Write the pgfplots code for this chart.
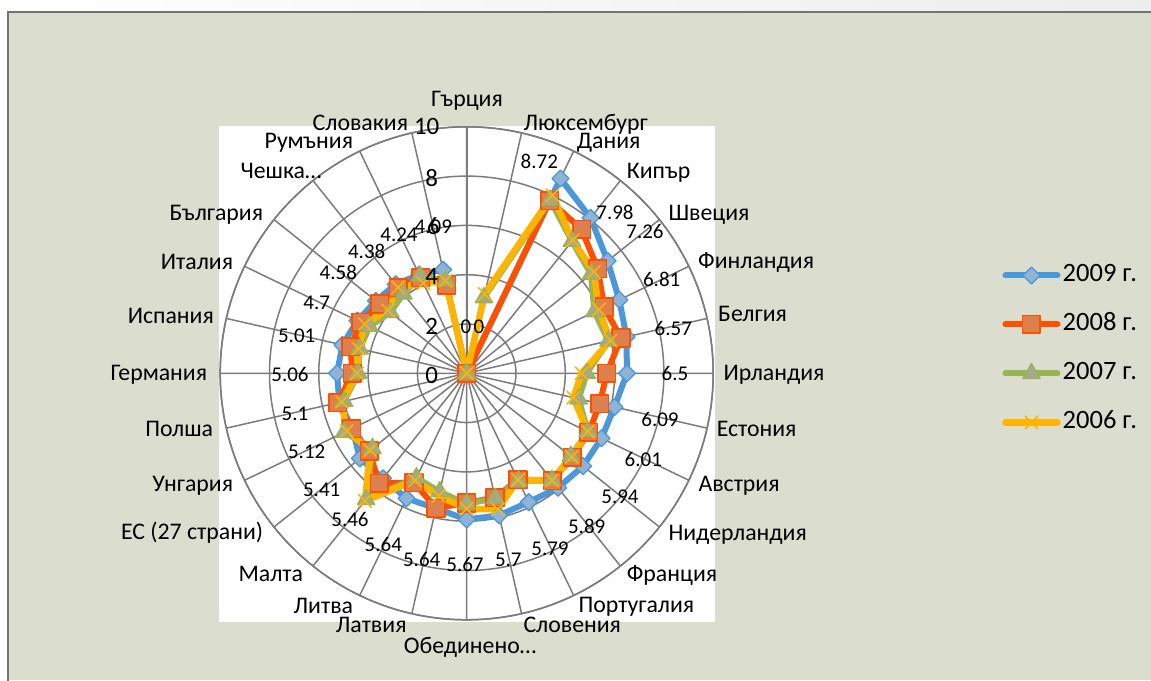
\documentclass[border=0pt]{standalone}
\usepackage{fontspec}
\setmainfont{Carlito}
\usepackage{pgfplots}
\pgfplotsset{compat=1.18}
\usepackage{pgfplotstable}
\usepgfplotslibrary{polar}
\definecolor{bgc}{HTML}{DBDDCE}
\definecolor{gridc}{HTML}{7C7C7C}
\definecolor{c09}{HTML}{4A98DA}
\definecolor{c09f}{HTML}{8DB3D6}
\definecolor{c08}{HTML}{FF5000}
\definecolor{c08f}{HTML}{DE7F4E}
\definecolor{c07}{HTML}{9BB453}
\definecolor{c07f}{HTML}{A4A98A}
\definecolor{c06}{HTML}{FFB400}

\pgfplotstableread{
i  b09  r08  g07  y06
0  0    0    0    0
1  0    0    3.15 3.30
2  8.77 7.77 7.80 8.02
3  8.06 7.47 6.85 6.90
4  7.31 6.80 6.45 6.60
5  6.87 6.19 5.75 5.95
6  6.65 6.42 5.90 5.98
7  6.50 5.68 4.87 4.66
8  6.15 5.54 4.66 4.44
9  6.07 5.50 5.45 5.45
10 6.04 5.47 5.40 5.45
11 5.94 5.57 5.55 5.55
12 5.80 4.80 4.85 4.80
13 5.91 5.17 5.20 5.66
14 5.93 5.26 5.30 5.50
15 5.62 5.61 4.93 5.10
16 5.63 4.92 4.70 4.83
17 5.45 5.70 6.55 6.62
18 5.54 5.06 4.89 5.01
19 5.15 5.18 5.52 5.40
20 5.30 5.36 5.10 5.20
21 5.26 4.64 4.40 4.45
22 5.17 4.83 4.45 4.50
23 4.92 4.77 4.38 4.59
24 4.71 4.51 3.96 4.09
25 4.62 4.45 4.12 4.46
26 4.44 4.30 4.38 4.05
27 4.31 3.66 3.85 3.85
28 0    0    0    0
}\data

\tikzset{
  cat/.style={font=\fontsize{23.8}{28}\selectfont, inner sep=0pt, text height=16pt, text depth=2pt},
  dl/.style={font=\fontsize{21}{25}\selectfont, inner sep=0pt, text height=13.5pt, text depth=0pt},
  tk/.style={font=\fontsize{25}{30}\selectfont, inner sep=0pt, text height=16pt, text depth=0pt},
}

\begin{document}
\begin{tikzpicture}
\begin{scope}[x=1pt,y=-1pt,shift={(0pt,680pt)}]
  \shade[left color=white, right color=black!7] (0,0) rectangle (1151,12);
  \fill[bgc] (8,12) rectangle (1151,680);
  \draw[line width=1.6pt, black!55] (8,690) -- (8,12) -- (1160,12);
  \fill[white] (219,126) rectangle (715,621.7);
\end{scope}

\begin{polaraxis}[
  at={(466.7pt,306.7pt)}, anchor=origin,
  scale only axis, width=493pt, height=493pt,
  xmin=0, xmax=360, ymin=0, ymax=10,
  xtick={0,12.857143,25.714286,38.571429,51.428571,64.285714,77.142857,90,102.857143,115.714286,128.571429,141.428571,154.285714,167.142857,180,192.857143,205.714286,218.571429,231.428571,244.285714,257.142857,270,282.857143,295.714286,308.571429,321.428571,334.285714,347.142857},
  ytick={0,2,4,6,8,10},
  xticklabel=\empty, yticklabel=\empty,
  grid=major,
  major grid style={draw=gridc, line width=1.5pt},
  axis line style={draw=gridc, line width=1.5pt},
  major tick length=0pt,
  clip=false,
  legend style={at={(1.5858,0.5493)}, anchor=west, draw=none, fill=none, inner sep=0pt,
    font=\fontsize{26.5}{31}\selectfont, row sep=26pt, column sep=2pt,
    nodes={inner sep=0pt, text height=18pt, text depth=5pt}},
  legend cell align=left,
  legend image code/.code={
    \draw[#1, mark repeat=2, mark phase=2] plot coordinates {(0pt,0pt) (26pt,0pt) (52pt,0pt)};
  },
  every axis plot/.append style={line join=round, line cap=round},
]
\draw[gridc, line width=2.2pt] (axis cs:90,0) -- (axis cs:90,10);

\addplot[c09, line width=6pt, mark=diamond*, mark size=8.5pt,
  mark options={fill=c09f, draw=c09, line width=1.3pt, xscale=1.333}]
  table[x expr={mod(450-\thisrow{i}*360/28,360)}, y=b09] {\data};
\addlegendentry{2009 г.}
\addplot[c08, line width=6pt, mark=square*, mark size=8.8pt,
  mark options={fill=c08f, draw=c08, line width=1.6pt}]
  table[x expr={mod(450-\thisrow{i}*360/28,360)}, y=r08] {\data};
\addlegendentry{2008 г.}
\addplot[c07, line width=6pt, mark=triangle*, mark size=10pt,
  mark options={fill=c07f, draw=c07, line width=1.3pt}]
  table[x expr={mod(450-\thisrow{i}*360/28,360)}, y=g07] {\data};
\addlegendentry{2007 г.}
\addplot[c06, line width=6.5pt, mark=x, mark size=9pt,
  mark options={draw=c06, line width=1.6pt}]
  table[x expr={mod(450-\thisrow{i}*360/28,360)}, y=y06] {\data};
\addlegendentry{2006 г.}
\end{polaraxis}

\begin{scope}[x=1pt,y=-1pt,shift={(0pt,680pt)}]
  % radial tick labels
  \node[tk] at (431.7,376) {0};
  \node[tk] at (431.7,326.7) {2};
  \node[tk] at (431.7,276.7) {4};
  \node[tk] at (433.3,226.7) {6};
  \node[tk] at (431.7,178.3) {8};
  \node[tk] at (426.7,126.7) {10};
  % data labels (2009)
  \node[dl] at (466,326.7) {0};
  \node[dl] at (479,326.7) {0};
  \node[dl] at (539.3,161.7) {8.72};
  \node[dl] at (615,212.7) {7.98};
  \node[dl] at (645,231.7) {7.26};
  \node[dl] at (661.7,279.3) {6.81};
  \node[dl] at (673.3,328.3) {6.57};
  \node[dl] at (675,373.3) {6.5};
  \node[dl] at (660,419.3) {6.09};
  \node[dl] at (643.3,460) {6.01};
  \node[dl] at (620,496.7) {5.94};
  \node[dl] at (586.7,526.7) {5.89};
  \node[dl] at (550,548.3) {5.79};
  \node[dl] at (508.3,560) {5.7};
  \node[dl] at (465,565) {5.67};
  \node[dl] at (421.7,559.3) {5.64};
  \node[dl] at (383.3,545) {5.64};
  \node[dl] at (350,520) {5.46};
  \node[dl] at (321.7,489.3) {5.41};
  \node[dl] at (306.7,451.7) {5.12};
  \node[dl] at (295,413.3) {5.1};
  \node[dl] at (290,375) {5.06};
  \node[dl] at (296.7,336) {5.01};
  \node[dl] at (316.7,302.7) {4.7};
  \node[dl] at (338.3,272.7) {4.58};
  \node[dl] at (366.7,251.7) {4.38};
  \node[dl] at (399,235) {4.24};
  \node[dl] at (433.3,226.7) {4.09};
  % category labels
  \node[cat] at (467,100) {Гърция};
  \node[cat,anchor=west] at (523.3,123.3) {Люксембург};
  \node[cat,anchor=west] at (576.7,141.7) {Дания};
  \node[cat,anchor=west] at (626.7,171.7) {Кипър};
  \node[cat,anchor=west] at (668.3,213.3) {Швеция};
  \node[cat,anchor=west] at (698,261.7) {Финландия};
  \node[cat,anchor=west] at (718,315) {Белгия};
  \node[cat,anchor=west] at (723.3,373.3) {Ирландия};
  \node[cat,anchor=west] at (716.7,430) {Естония};
  \node[cat,anchor=west] at (698.3,485) {Австрия};
  \node[cat,anchor=west] at (668.3,533.3) {Нидерландия};
  \node[cat,anchor=west] at (626.7,575) {Франция};
  \node[cat,anchor=west] at (578.3,606) {Португалия};
  \node[cat,anchor=west] at (523.3,625) {Словения};
  \node[cat] at (470,646) {Обединено…};
  \node[cat,anchor=east] at (406.7,625) {Латвия};
  \node[cat,anchor=east] at (353.3,606.7) {Литва};
  \node[cat,anchor=east] at (303.3,575) {Малта};
  \node[cat,anchor=east] at (263.3,533) {ЕС (27 страни)};
  \node[cat,anchor=east] at (233.3,485) {Унгария};
  \node[cat,anchor=east] at (213.3,430) {Полша};
  \node[cat,anchor=east] at (207.3,373.3) {Германия};
  \node[cat,anchor=east] at (214,316.7) {Испания};
  \node[cat,anchor=east] at (233.3,262.7) {Италия};
  \node[cat,anchor=east] at (263.3,213.3) {България};
  \node[cat,anchor=east] at (321.7,171.7) {Чешка…};
  \node[cat,anchor=east] at (353.3,141.7) {Румъния};
  \node[cat,anchor=east] at (408.3,123.3) {Словакия};
\end{scope}
\pgfresetboundingbox
\path[use as bounding box] (0,0) rectangle (1151pt,680pt);
\end{tikzpicture}
\end{document}
